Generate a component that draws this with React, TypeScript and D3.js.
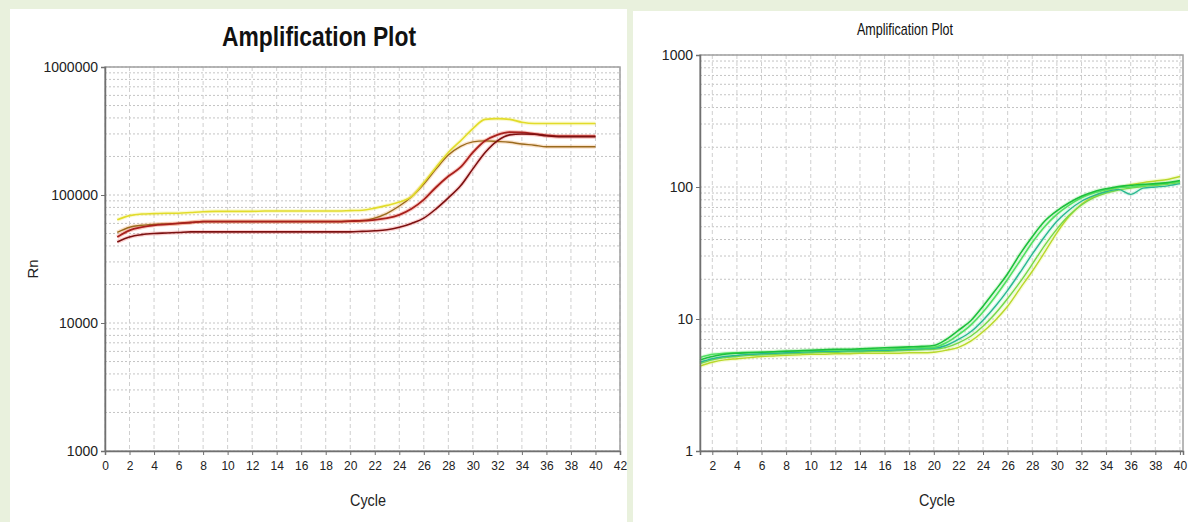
import React, { useEffect, useRef } from 'react'
import * as d3 from 'd3'

// cycle numbers shared by both plots
const CYCLES = [1, 2, 3, 4, 5, 6, 7, 8, 9, 10, 11, 12, 13, 14, 15, 16, 17, 18, 19, 20,
  21, 22, 23, 24, 25, 26, 27, 28, 29, 30, 31, 32, 33, 34, 35, 36, 37, 38, 39, 40]

// left plot (Rn, 4 wells)
const LEFT_X_TICKS = [0, 2, 4, 6, 8, 10, 12, 14, 16, 18, 20, 22, 24, 26, 28, 30, 32, 34, 36, 38, 40, 42]
const LEFT_Y_TICKS = [1000, 10000, 100000, 1000000]
const LEFT_YELLOW = [64000, 69000, 71000, 71500, 72000, 72000, 73000, 74000, 74500, 74500,
  74500, 74500, 75000, 75000, 75000, 75000, 75000, 75000, 75000, 75500,
  76000, 79000, 83000, 88000, 97000, 125000, 165000, 215000, 265000, 330000,
  390000, 395000, 390000, 370000, 362000, 362000, 362000, 362000, 362000, 362000]
const LEFT_OLIVE = [51000, 56000, 58000, 59000, 59500, 60000, 61000, 62000, 62000, 62000,
  62000, 62000, 62000, 62000, 62000, 62000, 62000, 62000, 62000, 62500,
  63000, 66000, 72000, 82000, 97000, 122000, 160000, 205000, 240000, 260000,
  265000, 262000, 258000, 250000, 245000, 238000, 238000, 238000, 238000, 238000]
const LEFT_RED = [47000, 53000, 56000, 58000, 59000, 60000, 61000, 62000, 62000, 62000,
  62000, 62000, 62000, 62000, 62000, 62000, 62000, 62000, 62000, 62500,
  63000, 64000, 66000, 70000, 78000, 92000, 115000, 140000, 165000, 215000,
  265000, 295000, 310000, 308000, 300000, 292000, 288000, 288000, 288000, 288000]
const LEFT_DARKRED = [43000, 47000, 49000, 50000, 50500, 51000, 51500, 51500, 51500, 51500,
  51500, 51500, 51500, 51500, 51500, 51500, 51500, 51500, 51500, 51500,
  52000, 52500, 53500, 56000, 60000, 66000, 78000, 95000, 118000, 160000,
  215000, 265000, 295000, 300000, 298000, 290000, 285000, 285000, 285000, 285000]

// right plot (5 wells)
const RIGHT_X_TICKS = [2, 4, 6, 8, 10, 12, 14, 16, 18, 20, 22, 24, 26, 28, 30, 32, 34, 36, 38, 40]
const RIGHT_Y_TICKS = [1, 10, 100, 1000]
const RIGHT_G1 = [4.9, 5.2, 5.4, 5.5, 5.55, 5.6, 5.65, 5.7, 5.75, 5.8, 5.85, 5.9, 5.9, 5.95, 6.0, 6.05, 6.1, 6.15, 6.2, 6.3,
  7.0, 8.2, 9.7, 12.5, 16.5, 22, 31, 42, 55, 66, 76, 85, 92, 97, 101, 103, 105, 106, 108, 112]
const RIGHT_G2 = [5.1, 5.4, 5.5, 5.55, 5.6, 5.6, 5.65, 5.7, 5.7, 5.75, 5.8, 5.8, 5.85, 5.85, 5.9, 5.9, 5.95, 6.0, 6.05, 6.1,
  6.6, 7.6, 9.0, 11.3, 14.8, 20, 27.5, 38, 50, 62, 73, 83, 90, 95, 99, 100, 103, 105, 107, 110]
const RIGHT_G3 = [4.7, 5.0, 5.2, 5.3, 5.4, 5.45, 5.5, 5.55, 5.6, 5.65, 5.7, 5.7, 5.75, 5.75, 5.8, 5.8, 5.85, 5.9, 5.95, 6.0,
  6.3, 7.0, 8.0, 9.8, 12.5, 16.5, 22.5, 31, 42, 55, 67, 78, 86, 92, 96, 88, 98, 100, 102, 106]
const RIGHT_G4 = [4.6, 4.9, 5.1, 5.2, 5.3, 5.35, 5.4, 5.45, 5.5, 5.55, 5.6, 5.6, 5.65, 5.65, 5.7, 5.7, 5.75, 5.8, 5.85, 5.9,
  6.1, 6.6, 7.4, 8.8, 11, 14.3, 19, 26, 36, 48, 61, 73, 83, 90, 95, 98, 101, 103, 105, 108]
const RIGHT_G5 = [4.4, 4.7, 4.9, 5.0, 5.1, 5.2, 5.25, 5.3, 5.35, 5.4, 5.4, 5.45, 5.45, 5.5, 5.5, 5.5, 5.5, 5.55, 5.55, 5.6,
  5.8, 6.1, 6.8, 8.0, 9.8, 12.5, 17, 23, 32, 45, 60, 74, 85, 93, 99, 104, 108, 111, 114, 120]

const FONT = '"Liberation Sans Narrow", "Arial Narrow", "Liberation Sans", Arial, sans-serif'

const App = () => {
  const svgRef = useRef<SVGSVGElement>(null)

  const width = 1188
  const height = 522

  useEffect(() => {
    const svg = d3.select(svgRef.current)
    svg.selectAll('*').remove()

    svg.append('rect').attr('width', width).attr('height', height).attr('fill', '#e9f1dd')
    svg.append('rect').attr('x', 10).attr('y', 9).attr('width', 617).attr('height', height - 9).attr('fill', '#fff')
    svg.append('rect').attr('x', 633).attr('y', 11).attr('width', width - 633).attr('height', height - 11).attr('fill', '#fff')

    const drawPanel = (cfg: any) => {
      const { x, y, xTicks, yTicks, series, title, titleX, titleY, titleSize, titleWeight, titleLen, cycleX, yLabel } = cfg
      const g = svg.append('g')
      const [x0, x1] = x.range()
      const [yb, yt] = y.range()

      // grid
      g.append('g').selectAll('line').data(y.ticks())
        .enter().append('line')
        .attr('x1', x0).attr('x2', x1)
        .attr('y1', (d: number) => y(d)).attr('y2', (d: number) => y(d))
        .attr('stroke', '#c4c4c4').attr('stroke-dasharray', '2,2')
      g.append('g').selectAll('line').data(xTicks)
        .enter().append('line')
        .attr('x1', (d: number) => x(d)).attr('x2', (d: number) => x(d))
        .attr('y1', yt).attr('y2', yb)
        .attr('stroke', '#cfcfcf').attr('stroke-dasharray', '4,3')

      // frame
      g.append('rect')
        .attr('x', x0).attr('y', yt).attr('width', x1 - x0).attr('height', yb - yt)
        .attr('fill', 'none').attr('stroke', '#a0a0a0').attr('stroke-width', 1.5)

      // lines
      const line = d3.line<number>()
        .x((_, i) => x(CYCLES[i]))
        .y(d => y(d))
        .curve(d3.curveMonotoneX)
      series.forEach((s: any) => {
        g.append('path').attr('d', line(s.values)).attr('fill', 'none')
          .attr('stroke', s.glow).attr('stroke-width', 4).attr('stroke-opacity', 0.35)
      })
      series.forEach((s: any) => {
        g.append('path').attr('d', line(s.values)).attr('fill', 'none')
          .attr('stroke', s.color).attr('stroke-width', s.width)
      })

      // axes
      const xAxis = g.append('g').attr('transform', `translate(0,${yb})`)
        .call(d3.axisBottom(x).tickValues(xTicks).tickSize(4).tickPadding(6).tickFormat((d: any) => String(d)))
      const yAxis = g.append('g').attr('transform', `translate(${x0},0)`)
        .call(d3.axisLeft(y).tickValues(yTicks).tickSize(4).tickPadding(3).tickFormat((d: any) => String(d)))
      ;[xAxis, yAxis].forEach(a => {
        a.select('.domain').attr('stroke', '#707070').attr('stroke-width', 1.5)
        a.selectAll('.tick line').attr('stroke', '#707070')
        a.selectAll('text').attr('font-family', FONT).attr('fill', '#222')
      })
      xAxis.selectAll('text').attr('font-size', 12)
      yAxis.selectAll('text').attr('font-size', 14).attr('dy', '0.35em')

      svg.append('text')
        .attr('x', titleX).attr('y', titleY).attr('text-anchor', 'middle')
        .attr('font-family', FONT).attr('font-size', titleSize).attr('font-weight', titleWeight)
        .attr('textLength', titleLen).attr('lengthAdjust', 'spacingAndGlyphs')
        .attr('fill', '#111')
        .text(title)

      svg.append('text')
        .attr('x', cycleX).attr('y', 506).attr('text-anchor', 'middle')
        .attr('font-family', FONT).attr('font-size', 17).attr('fill', '#222')
        .attr('textLength', 36).attr('lengthAdjust', 'spacingAndGlyphs')
        .text('Cycle')

      if (yLabel) {
        svg.append('text')
          .attr('transform', `translate(38,${(yt + yb) / 2 + 10}) rotate(-90)`)
          .attr('text-anchor', 'middle')
          .attr('font-family', FONT).attr('font-size', 15).attr('fill', '#222')
          .text(yLabel)
      }
    }

    drawPanel({
      x: d3.scaleLinear().domain([0, 42]).range([105, 620]),
      y: d3.scaleLog().domain([1000, 1000000]).range([451, 67]),
      xTicks: LEFT_X_TICKS,
      yTicks: LEFT_Y_TICKS,
      series: [
        { values: LEFT_OLIVE, color: '#9a6a1c', glow: '#f0b070', width: 1.4 },
        { values: LEFT_YELLOW, color: '#e2dc2a', glow: '#f4f080', width: 1.6 },
        { values: LEFT_RED, color: '#a8201c', glow: '#f07060', width: 1.8 },
        { values: LEFT_DARKRED, color: '#7c1010', glow: '#f08080', width: 1.6 },
      ],
      title: 'Amplification Plot',
      titleX: 319, titleY: 46, titleSize: 27, titleWeight: 'bold', titleLen: 194,
      cycleX: 368,
      yLabel: 'Rn',
    })

    drawPanel({
      x: d3.scaleLinear().domain([1, 40.25]).range([700, 1183]),
      y: d3.scaleLog().domain([1, 1000]).range([451, 55]),
      xTicks: RIGHT_X_TICKS,
      yTicks: RIGHT_Y_TICKS,
      series: [
        { values: RIGHT_G5, color: '#b8d82a', glow: '#e8f490', width: 1.4 },
        { values: RIGHT_G4, color: '#74d848', glow: '#c8f0a0', width: 1.4 },
        { values: RIGHT_G3, color: '#28b890', glow: '#a0e8c8', width: 1.4 },
        { values: RIGHT_G2, color: '#50e060', glow: '#b0f4b0', width: 1.6 },
        { values: RIGHT_G1, color: '#1cc03c', glow: '#a0eca0', width: 1.6 },
      ],
      title: 'Amplification Plot',
      titleX: 905, titleY: 35, titleSize: 17, titleWeight: 'normal', titleLen: 96,
      cycleX: 937,
      yLabel: null,
    })
  }, [])

  return (
    <svg ref={svgRef} width={width} height={height}
      style={{ position: 'absolute', left: 0, top: 0, display: 'block' }} />
  )
}

export default App
